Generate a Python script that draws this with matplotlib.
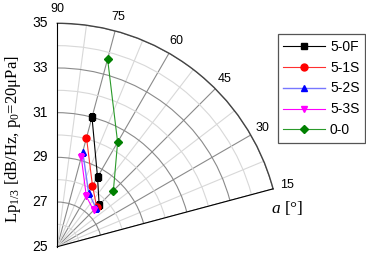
import numpy as np
import matplotlib
matplotlib.use("Agg")
import matplotlib.pyplot as plt
from matplotlib.ticker import FixedLocator

plt.rcParams['font.family'] = ['Liberation Sans', 'DejaVu Sans']
plt.rcParams['mathtext.fontset'] = 'custom'
plt.rcParams['mathtext.rm'] = 'Liberation Serif'
plt.rcParams['mathtext.it'] = 'Liberation Serif:italic'

# data: angle [deg], level [dB]
angles = [75, 60, 45]
series_names = ['5-0F', '5-1S', '5-2S', '5-3S', '0-0']
lp_50F = [31.0, 28.6, 27.65]
lp_51S = [30.05, 28.15, 27.5]
lp_52S = [29.4, 27.8, 27.45]
lp_53S = [29.15, 27.6, 27.3]
lp_00 = [33.7, 30.4, 28.55]

theta_ticks = [15, 30, 45, 60, 75, 90]
theta_minor = [22.5, 37.5, 52.5, 67.5, 82.5]
r_ticks = [25, 27, 29, 31, 33, 35]
r_minor = [26, 28, 30, 32, 34]

fig = plt.figure(figsize=(3.66, 2.56), dpi=100)
W, H = 366, 256
# target: origin pixel (from top-left) and outer radius in pixels
ox, oy, R = 57.3, 246.7, 223.4
ax = fig.add_axes([ox / W, (H - oy) / H, R / W, R / H], projection='polar')
ax.set_thetamin(15)
ax.set_thetamax(90)
ax.set_rlim(25, 35)
ax.set_rorigin(25)

styles = [
    dict(color='black', marker='s', ms=4.5, lw=0.8, mfc='black', mec='black'),
    dict(color='#ff3030', marker='o', ms=5, lw=0.8, mfc='red', mec='red'),
    dict(color='#7777ff', marker='^', ms=5, lw=1.0, mfc='blue', mec='blue'),
    dict(color='magenta', marker='v', ms=5, lw=0.8, mfc='magenta', mec='magenta'),
    dict(color='#2a9a2a', marker='D', ms=4.2, lw=0.8, mfc='green', mec='green'),
]
all_lp = [lp_50F, lp_51S, lp_52S, lp_53S, lp_00]
th = np.deg2rad(angles)
for name, lp, st in zip(series_names, all_lp, styles):
    ax.plot(th, lp, label=name, zorder=3, **st)

ax.set_xticks(np.deg2rad(theta_ticks))
ax.set_xticklabels([str(t) for t in theta_ticks], fontsize=9)
ax.xaxis.set_minor_locator(FixedLocator(np.deg2rad(theta_minor)))
ax.set_yticks(r_ticks)
ax.set_yticklabels([str(r) for r in r_ticks], fontsize=9)
ax.yaxis.set_minor_locator(FixedLocator(r_minor))

ax.grid(True, which='major', color='#8a8a8a', lw=0.8)
ax.grid(True, which='minor', color='#d8d8d8', lw=0.8)
ax.tick_params(axis='x', which='major', direction='in', length=5, color='#444444', pad=3)
ax.tick_params(axis='x', which='minor', length=0)
ax.tick_params(axis='y', which='both', length=0, labelleft=False, labelright=True, pad=7)
for t in ax.xaxis.get_major_ticks():
    if abs(t.get_loc() - np.pi / 2) < 1e-6:
        t.gridline.set_visible(False)

for k, sp in ax.spines.items():
    if k in ('start', 'end', 'inner'):
        sp.set_visible(False)
ax.spines['polar'].set_color('#444444')
ax.spines['polar'].set_linewidth(1.0)

# fit the wedge so that its origin and outer radius land on the target pixels
pos = [ox / W, (H - oy) / H, R / W, R / H]
for _ in range(4):
    ax.set_position(pos)
    fig.canvas.draw()
    p0 = ax.transData.transform((0.0, 25.0))
    p1 = ax.transData.transform((np.pi / 2, 35.0))
    r_now = p1[1] - p0[1]
    s = R / r_now
    pos[2] *= s
    pos[3] *= s
    ax.set_position(pos)
    fig.canvas.draw()
    p0 = ax.transData.transform((0.0, 25.0))
    pos[0] += (ox - p0[0]) / W
    pos[1] += ((H - oy) - p0[1]) / H
ax.set_position(pos)

fig.text(13 / W, 1 - 139 / H, r'Lp$_{\mathregular{1/3}}$ [dB/Hz, p$_{\mathregular{0}}$=20μPa]',
         rotation=90, ha='center', va='center', fontsize=12, family='Liberation Serif')
fig.text(287 / W, 1 - 208 / H, r'$a$ [°]', ha='center', va='center', fontsize=12.5,
         family='Liberation Serif')

leg = fig.legend(loc='upper right', bbox_to_anchor=(365 / W, 1 - 34 / H),
                 bbox_transform=fig.transFigure, fontsize=10, fancybox=False,
                 framealpha=1, edgecolor='#555555', handlelength=3.0,
                 handletextpad=0.35, borderaxespad=0)
leg.get_frame().set_linewidth(0.9)

fig.savefig('out.png', dpi=100)
